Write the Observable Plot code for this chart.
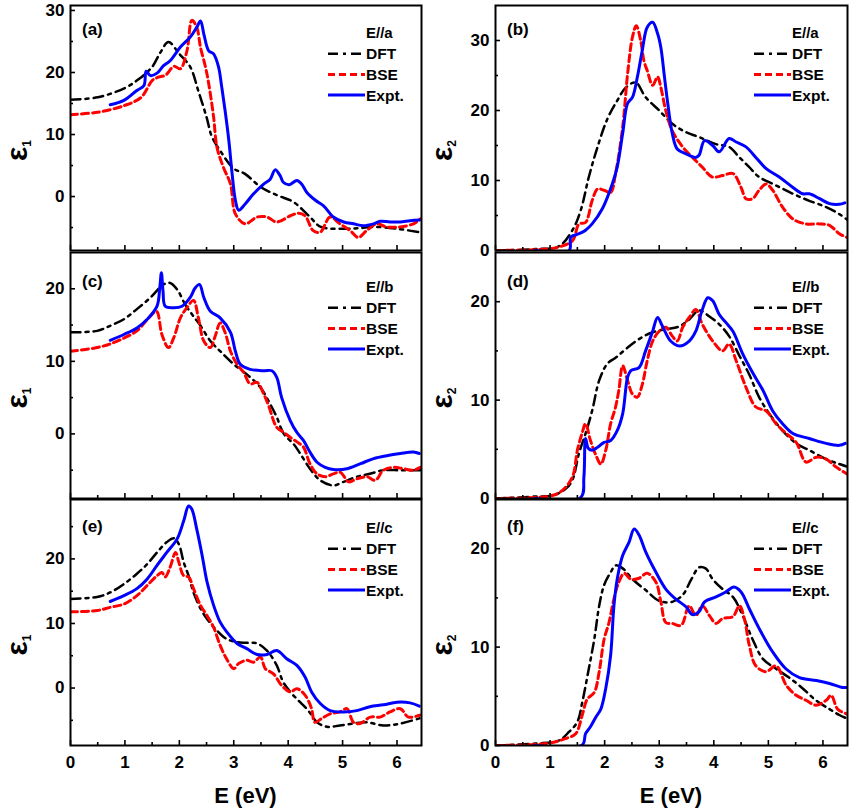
<!DOCTYPE html>
<html><head><meta charset="utf-8">
<script src="https://cdn.jsdelivr.net/npm/d3@7"></script>
<script src="https://cdn.jsdelivr.net/npm/@observablehq/plot@0.6"></script>
<style>
body{margin:0;background:#fff;}
#chart{position:relative;width:850px;height:810px;background:#fff;}
#chart svg{position:absolute;}
</style></head><body><div id="chart"></div>
<script>
// ---------- data: [E (eV), value] ----------
const a_DFT = [[0,15.6],[0.5,16],[1.0,17.5],[1.25,18.9],[1.5,20.9],[1.65,23.2],[1.8,24.9],[2.0,23],[2.2,20.9],[2.35,17],[2.5,12.8],[2.6,9.6],[2.75,7.4],[3.0,4.5],[3.2,3.7],[3.5,1.5],[3.8,0.2],[4.1,-0.9],[4.4,-3.3],[4.6,-4.9],[5.0,-5.2],[5.3,-5.1],[5.6,-4.9],[6.0,-5.2],[6.45,-5.8]];
const a_BSE = [[0,13.2],[0.5,13.6],[1.0,14.7],[1.3,16],[1.5,18.7],[1.6,19.2],[1.75,19.6],[1.9,21],[2.02,20.6],[2.14,23.5],[2.23,28.4],[2.32,27.3],[2.39,24],[2.48,20.9],[2.54,18.2],[2.63,12.8],[2.69,8],[2.81,4.7],[2.94,2],[3.03,-2.8],[3.21,-4.4],[3.43,-3.3],[3.61,-3.3],[3.79,-4.1],[4.04,-3.1],[4.19,-2.7],[4.31,-3.1],[4.46,-5.5],[4.59,-5.75],[4.77,-3.3],[4.95,-4.4],[5.14,-5.5],[5.29,-6.6],[5.44,-5.5],[5.63,-4.4],[5.81,-4.9],[6.06,-4.9],[6.3,-4.4],[6.43,-3.6]];
const a_Expt = [[0.73,14.8],[0.98,15.5],[1.22,17.1],[1.35,17.9],[1.39,20.2],[1.47,19.5],[1.59,19.9],[1.71,21.1],[1.83,21.9],[2.02,24.1],[2.2,25.7],[2.32,27.3],[2.39,28.3],[2.45,26.2],[2.54,23.5],[2.63,23],[2.72,20.9],[2.78,17.6],[2.84,13.9],[2.91,9],[2.97,3.7],[3.03,-0.6],[3.09,-2.2],[3.21,-1.2],[3.36,0.4],[3.55,2],[3.67,2.8],[3.76,4.3],[3.85,3.4],[3.91,2.3],[4.02,1.9],[4.16,2.6],[4.25,2],[4.34,0.7],[4.5,-0.6],[4.65,-1.5],[4.83,-3.3],[5.02,-4.1],[5.2,-4.4],[5.38,-4.7],[5.57,-4.4],[5.69,-4],[5.87,-4.1],[6.06,-4.1],[6.24,-3.9],[6.41,-3.8]];

const b_DFT = [[0,0],[0.73,0.2],[1.16,0.6],[1.41,2.9],[1.56,5.7],[1.71,10.5],[1.87,14.8],[2.05,18.8],[2.23,21.4],[2.39,23.3],[2.57,24],[2.75,21.9],[3.0,20],[3.24,18.1],[3.49,16.9],[3.73,16.2],[4.04,15.2],[4.28,14.8],[4.47,13.3],[4.65,11.9],[4.83,10.5],[5.14,9.3],[5.45,8.1],[5.75,7.1],[6.06,6.2],[6.3,5.2],[6.46,4.3]];
const b_BSE = [[0,0],[0.92,0.2],[1.16,0.5],[1.41,1.4],[1.53,3.8],[1.65,4],[1.77,7.1],[1.87,8.8],[1.99,8.6],[2.11,8.3],[2.2,11],[2.33,17.6],[2.42,25.2],[2.51,30.5],[2.58,32.1],[2.66,30],[2.72,27.1],[2.78,25.7],[2.88,23.6],[2.97,24.8],[3.03,23.3],[3.12,20],[3.24,17.1],[3.43,14.8],[3.61,13.3],[3.79,11.9],[3.97,10.5],[4.16,10.7],[4.35,11],[4.5,9],[4.59,7.4],[4.71,7.4],[4.83,8.6],[4.96,9.5],[5.08,8.6],[5.26,6.2],[5.45,4.5],[5.69,3.8],[5.94,3.8],[6.12,3.6],[6.3,2.4],[6.43,1.9]];
const b_Expt = [[0.73,0],[1.35,0],[1.38,1.9],[1.53,2.4],[1.65,2.9],[1.77,3.8],[1.96,6],[2.14,9.5],[2.23,11.9],[2.33,16.7],[2.42,21],[2.51,21.9],[2.6,24.8],[2.69,28.6],[2.78,31.9],[2.88,32.6],[2.97,31],[3.03,29],[3.09,25.2],[3.15,21.4],[3.24,16.7],[3.33,14.5],[3.49,13.8],[3.67,13.3],[3.73,13.6],[3.83,15.7],[3.98,15],[4.1,14.1],[4.28,16],[4.41,15.5],[4.59,14.8],[4.77,13.3],[4.96,11.7],[5.2,10.5],[5.45,9],[5.63,8.1],[5.75,8.1],[5.94,7.4],[6.12,6.7],[6.3,6.6],[6.4,6.8]];

const c_DFT = [[0,14],[0.49,14.2],[0.73,14.9],[0.98,15.8],[1.22,17.2],[1.47,18.8],[1.71,20.6],[1.83,20.8],[1.96,19.9],[2.11,17.8],[2.26,16.2],[2.39,14.9],[2.57,12.8],[2.75,11.4],[3.0,9.6],[3.24,8.2],[3.49,6.4],[3.67,4.1],[3.79,2.3],[3.92,0],[4.1,-1.4],[4.22,-2.7],[4.4,-4.8],[4.59,-6.4],[4.83,-7.1],[5.02,-6.6],[5.26,-5.9],[5.5,-5.5],[5.75,-5],[6.06,-5],[6.45,-5]];
const c_BSE = [[0,11.4],[0.49,11.9],[0.73,12.4],[0.98,13.2],[1.22,14.2],[1.44,16],[1.58,16.9],[1.68,13.7],[1.8,11.9],[1.9,13.3],[2.02,16],[2.14,17.4],[2.26,18.4],[2.35,16],[2.45,12.8],[2.57,11.9],[2.66,13.5],[2.75,15.3],[2.84,14],[2.94,11.4],[3.06,9.6],[3.18,8.5],[3.3,6.9],[3.43,7.1],[3.55,5.5],[3.64,3.9],[3.79,0.9],[3.92,0.2],[4.04,-0.5],[4.16,-1.1],[4.28,-1.8],[4.4,-4.1],[4.53,-5.5],[4.68,-5.9],[4.83,-5.5],[4.96,-5.3],[5.11,-6.6],[5.26,-6.2],[5.45,-5.9],[5.6,-6.4],[5.75,-5],[5.94,-4.6],[6.12,-4.8],[6.3,-5],[6.43,-4.6]];
const c_Expt = [[0.73,12.9],[0.98,13.7],[1.22,14.6],[1.41,15.8],[1.59,17.6],[1.64,20.1],[1.67,22.2],[1.7,19.7],[1.74,17.6],[1.9,17.4],[2.05,17.6],[2.2,18.8],[2.29,20.1],[2.37,20.6],[2.45,18.8],[2.57,16.9],[2.75,16],[2.94,14],[3.03,11.4],[3.12,9.6],[3.3,8.9],[3.55,8.7],[3.7,8.7],[3.79,7.8],[3.88,5],[4.04,1.8],[4.16,0.2],[4.28,-0.9],[4.4,-2.5],[4.53,-3.9],[4.68,-4.6],[4.83,-4.9],[5.08,-4.8],[5.33,-4.1],[5.57,-3.4],[5.81,-3],[6.06,-2.7],[6.3,-2.5],[6.41,-2.7]];

const d_DFT = [[0,0],[0.73,0.2],[1.04,0.3],[1.29,1],[1.41,1.9],[1.53,4.6],[1.65,6.6],[1.77,8.9],[1.9,12],[2.05,13.7],[2.2,14.3],[2.39,15.2],[2.63,16.2],[2.88,16.9],[3.12,17.2],[3.37,17.5],[3.55,18.2],[3.73,19.1],[3.92,18.5],[4.1,17.7],[4.28,16.5],[4.47,14.5],[4.65,12.6],[4.83,10.3],[5.02,8.6],[5.26,6.9],[5.51,5.6],[5.75,4.9],[6.06,4],[6.3,3.5],[6.46,3.2]];
const d_BSE = [[0,0],[0.73,0.1],[1.04,0.3],[1.22,0.8],[1.41,2.2],[1.5,4.9],[1.59,6.7],[1.65,7.6],[1.74,5.9],[1.84,4.4],[1.93,3.5],[2.02,4.9],[2.11,7.6],[2.2,9.3],[2.26,11],[2.33,13.5],[2.42,12],[2.51,10.6],[2.6,10.3],[2.69,11.6],[2.78,14],[2.88,16],[3.0,17],[3.12,17.4],[3.24,16.5],[3.33,16],[3.43,17.4],[3.55,18.4],[3.67,19.2],[3.79,17.7],[3.98,16],[4.16,15],[4.28,15.7],[4.41,14],[4.59,11.3],[4.77,9.3],[4.96,8.9],[5.14,7.6],[5.33,6.6],[5.51,5.7],[5.69,3.7],[5.88,4.2],[6.06,4],[6.24,3.2],[6.44,2.5]];
const d_Expt = [[0.73,0],[1.56,0.1],[1.62,2.2],[1.65,6.1],[1.7,5.1],[1.77,4.9],[1.87,5.2],[1.99,5.7],[2.11,5.9],[2.23,6.9],[2.33,8.6],[2.42,12.3],[2.48,13],[2.63,13.3],[2.75,15],[2.88,17],[2.97,18.4],[3.06,17.5],[3.21,16],[3.37,15.5],[3.55,16],[3.67,17],[3.79,19.2],[3.89,20.4],[3.98,20.1],[4.1,18.7],[4.22,17.9],[4.35,17],[4.53,14.7],[4.71,12.8],[4.9,11],[5.08,8.9],[5.26,7.6],[5.45,6.6],[5.75,6.1],[6.06,5.6],[6.3,5.4],[6.41,5.6]];

const e_DFT = [[0,13.8],[0.49,14.1],[0.73,14.8],[0.98,16.1],[1.22,17.7],[1.41,19.2],[1.59,21],[1.77,22.6],[1.9,23.2],[1.99,22.3],[2.08,19.5],[2.17,17.4],[2.26,14.8],[2.39,12.3],[2.51,10.7],[2.69,8.9],[2.87,7.6],[3.06,7.1],[3.24,7],[3.43,6.9],[3.61,5.8],[3.79,3.5],[3.91,0.9],[4.07,-0.9],[4.22,-2.2],[4.37,-3.5],[4.53,-5.3],[4.71,-6],[4.95,-5.8],[5.2,-5.5],[5.44,-5.3],[5.75,-5.8],[6.06,-5.5],[6.45,-4.6]];
const e_BSE = [[0,11.8],[0.49,12],[0.73,12.5],[0.98,13],[1.22,14.3],[1.41,15.9],[1.59,17.4],[1.68,17.9],[1.74,17.2],[1.83,18.7],[1.93,21],[1.99,19.5],[2.08,17.4],[2.17,17.2],[2.26,15.4],[2.39,12.8],[2.51,11.2],[2.63,9.4],[2.75,6.6],[2.87,4.5],[3.0,3],[3.09,3.8],[3.24,4.3],[3.36,4],[3.49,4.8],[3.58,3],[3.73,2.2],[3.88,0.4],[4.04,-0.6],[4.16,-0.1],[4.31,-1.1],[4.43,-3.2],[4.49,-5.3],[4.62,-4.7],[4.77,-4],[4.95,-3.7],[5.08,-3.2],[5.2,-5.3],[5.32,-5.5],[5.51,-4.5],[5.69,-4.5],[5.87,-3.7],[6.06,-3.2],[6.21,-4.5],[6.42,-4.2]];
const e_Expt = [[0.73,13.4],[0.98,14.3],[1.22,15.4],[1.41,16.9],[1.59,19],[1.77,21],[1.96,23.1],[2.08,25.9],[2.17,28.2],[2.23,27.7],[2.32,24.6],[2.42,20.5],[2.51,16.4],[2.63,12.8],[2.75,10.2],[2.87,8.7],[3.06,6.9],[3.24,6.1],[3.43,5.2],[3.61,5.2],[3.79,5.8],[3.98,4.5],[4.16,3.5],[4.31,1.7],[4.43,-0.6],[4.59,-2.4],[4.77,-3.5],[5.02,-3.7],[5.26,-3.5],[5.5,-2.9],[5.75,-2.6],[6.0,-2.2],[6.24,-2.3],[6.41,-2.8]];

const f_DFT = [[0,0],[0.73,0.2],[1.16,0.5],[1.35,1.4],[1.5,2.4],[1.59,4.4],[1.71,7.8],[1.81,10.8],[1.9,14.2],[1.99,16.3],[2.11,17.6],[2.2,18.3],[2.33,18],[2.51,16.9],[2.75,15.8],[3.0,14.7],[3.24,14.6],[3.43,15.3],[3.59,16.9],[3.73,18.1],[3.85,18],[3.98,16.9],[4.16,15.9],[4.35,15.1],[4.53,13.2],[4.71,10.8],[4.9,8.8],[5.14,7.8],[5.38,6.9],[5.63,5.8],[5.87,4.6],[6.12,3.7],[6.3,3.1],[6.46,2.7]];
const f_BSE = [[0,0],[0.73,0.1],[1.04,0.3],[1.28,0.7],[1.47,1.2],[1.59,3.1],[1.68,4.7],[1.81,5.4],[1.9,7.5],[1.99,10.8],[2.08,12.5],[2.17,14.9],[2.26,16.6],[2.36,17.5],[2.48,16.9],[2.63,17],[2.78,17.5],[2.94,16.6],[3.03,14.6],[3.12,12.5],[3.24,12.4],[3.4,12.2],[3.55,14.2],[3.67,13.2],[3.79,14.2],[3.92,13.2],[4.04,12.4],[4.16,12.9],[4.35,13.1],[4.47,14.2],[4.56,12.9],[4.65,10.2],[4.77,8.1],[4.96,7.5],[5.14,8.1],[5.33,6.1],[5.51,5.1],[5.69,4.6],[5.87,4.1],[6.06,4.6],[6.15,5.1],[6.27,3.7],[6.44,3.2]];
const f_Expt = [[0.73,0],[1.59,0.05],[1.65,1.2],[1.74,1.9],[1.84,2.9],[1.93,3.7],[2.02,5.8],[2.11,9.2],[2.17,14.2],[2.23,16.9],[2.33,19.3],[2.45,20.7],[2.54,22],[2.63,21.4],[2.75,19.7],[2.94,17.6],[3.12,15.9],[3.3,14.9],[3.49,14.1],[3.61,13.3],[3.73,13.6],[3.83,14.6],[4.04,15.1],[4.22,15.6],[4.37,16.1],[4.5,15.6],[4.65,13.9],[4.83,11.9],[5.08,9.5],[5.32,7.8],[5.57,6.9],[5.88,6.6],[6.12,6.3],[6.36,5.9],[6.44,5.9]];

// ---------- labels / ticks ----------
const seriesNames = ["DFT", "BSE", "Expt."];
const panelTags = ["(a)", "(b)", "(c)", "(d)", "(e)", "(f)"];
const directions = ["E//a", "E//a", "E//b", "E//b", "E//c", "E//c"];
const xTicksMajor = [0, 1, 2, 3, 4, 5, 6];
const xTicksMinor = [0.5, 1.5, 2.5, 3.5, 4.5, 5.5];
const xLabel = "E (eV)";

// ---------- layout / style ----------
const FONT = "'Liberation Sans', Arial, Helvetica, sans-serif";
const styles = [
  {stroke: "#000000", strokeWidth: 2.5, dash: "10,5,3,5"},
  {stroke: "#ff0000", strokeWidth: 3, dash: "7,4"},
  {stroke: "#0000ff", strokeWidth: 3, dash: null}
];
const rowGeom = [
  {top: 0, mt: 5, fh: 245, mb: 0, tagY: 30, legY: 28},
  {top: 250, mt: 2, fh: 246, mb: 0, tagY: 35, legY: 35},
  {top: 498, mt: 1, fh: 246, mb: 65, tagY: 33, legY: 29}
];
const colGeom = [
  {left: 0, ml: 70, mr: 4, sub: "1"},
  {left: 425, ml: 70, mr: 3, sub: "2"}
];
const panels = [
  {data: [a_DFT, a_BSE, a_Expt], yDomain: [-8.7, 30.8], yMajor: [0, 10, 20, 30], yMinor: [-5, 5, 15, 25]},
  {data: [b_DFT, b_BSE, b_Expt], yDomain: [0, 35], yMajor: [0, 10, 20, 30], yMinor: [5, 15, 25]},
  {data: [c_DFT, c_BSE, c_Expt], yDomain: [-8.9, 25], yMajor: [0, 10, 20], yMinor: [-5, 5, 15]},
  {data: [d_DFT, d_BSE, d_Expt], yDomain: [0, 25], yMajor: [0, 10, 20], yMinor: [5, 15]},
  {data: [e_DFT, e_BSE, e_Expt], yDomain: [-8.9, 29.2], yMajor: [0, 10, 20], yMinor: [-5, 5, 15, 25]},
  {data: [f_DFT, f_BSE, f_Expt], yDomain: [0, 25], yMajor: [0, 10, 20], yMinor: [5, 15]}
];

const chart = document.getElementById("chart");

panels.forEach((p, i) => {
  const row = Math.floor(i / 2), col = i % 2;
  const rg = rowGeom[row], cg = colGeom[col];
  const width = 425;
  const height = rg.mt + rg.fh + rg.mb;
  const fw = width - cg.ml - cg.mr;
  const fh = rg.fh;
  const R = width - cg.mr;

  const decor = () => {
    const g = d3.create("svg:g").attr("font-family", FONT).attr("font-weight", "bold")
      .attr("fill", "black").attr("text-anchor", "start");
    // panel tag
    g.append("text").attr("x", cg.ml + 12).attr("y", rg.mt + rg.tagY).attr("font-size", 17).text(panelTags[i]);
    // legend
    g.append("text").attr("x", R - 55).attr("y", rg.mt + rg.legY).attr("dy", "0.35em").attr("font-size", 15).text(directions[i]);
    seriesNames.forEach((name, k) => {
      const y = rg.mt + rg.legY + 20.7 * (k + 1);
      const s = styles[k];
      g.append("line").attr("x1", R - 93).attr("x2", R - 56).attr("y1", y).attr("y2", y)
        .attr("stroke", s.stroke).attr("stroke-width", s.strokeWidth)
        .attr("stroke-dasharray", s.dash);
      g.append("text").attr("x", R - 55).attr("y", y).attr("dy", "0.35em").attr("font-size", 15.5).text(name);
    });
    // y label (epsilon with subscript)
    const cy = rg.mt + fh / 2 + 23;
    const t = g.append("text").attr("transform", `translate(16,${cy}) rotate(-90)`)
      .attr("text-anchor", "middle").attr("dominant-baseline", "central");
    t.append("tspan").attr("font-size", 30).text("ε");
    t.append("tspan").attr("font-size", 12).attr("dy", 11).text(cg.sub);
    // x label
    if (row === 2) {
      g.append("text").attr("x", cg.ml + fw / 2).attr("y", rg.mt + fh + 58)
        .attr("text-anchor", "middle").attr("font-size", 22).text(xLabel);
    }
    return g.node();
  };

  const inside = (v, d) => v >= Math.min(...d) && v <= Math.max(...d);
  const marks = [];
  p.data.forEach((arr, k) => {
    const s = styles[k];
    marks.push(Plot.line(arr, {
      x: d => d[0], y: d => d[1], stroke: s.stroke, strokeWidth: s.strokeWidth,
      strokeDasharray: s.dash || undefined, curve: "catmull-rom", clip: true
    }));
  });
  marks.push(Plot.tickX(xTicksMajor, {x: d => d, insetTop: fh - 5, stroke: "black", strokeWidth: 1.6}));
  marks.push(Plot.tickX(xTicksMinor, {x: d => d, insetTop: fh - 3, stroke: "black", strokeWidth: 1.6}));
  marks.push(Plot.tickY(p.yMajor.filter(v => inside(v, p.yDomain)), {y: d => d, insetRight: fw - 5, stroke: "black", strokeWidth: 1.6}));
  marks.push(Plot.tickY(p.yMinor.filter(v => inside(v, p.yDomain)), {y: d => d, insetRight: fw - 3, stroke: "black", strokeWidth: 1.6}));
  marks.push(Plot.axisY({ticks: p.yMajor, tickSize: 0, tickPadding: 6, label: null, fontSize: 17, fontWeight: "bold", fill: "black"}));
  if (row === 2) {
    marks.push(Plot.axisX({ticks: xTicksMajor, tickSize: 0, tickPadding: 10, label: null, fontSize: 17, fontWeight: "bold", fill: "black", tickFormat: d => String(d)}));
  }
  marks.push(Plot.frame({stroke: "black", strokeWidth: 2}));
  marks.push(decor);

  const svg = Plot.plot({
    width, height,
    marginLeft: cg.ml, marginRight: cg.mr, marginTop: rg.mt, marginBottom: rg.mb,
    x: {domain: [0, 6.45], axis: row === 2 ? undefined : null},
    y: {domain: p.yDomain},
    style: {background: "transparent", overflow: "visible", fontFamily: FONT, fontWeight: "bold", color: "black"},
    marks
  });
  svg.style.position = "absolute";
  svg.style.left = cg.left + "px";
  svg.style.top = rg.top + "px";
  svg.style.maxWidth = "none";
  chart.appendChild(svg);
});
</script>
</body></html>
